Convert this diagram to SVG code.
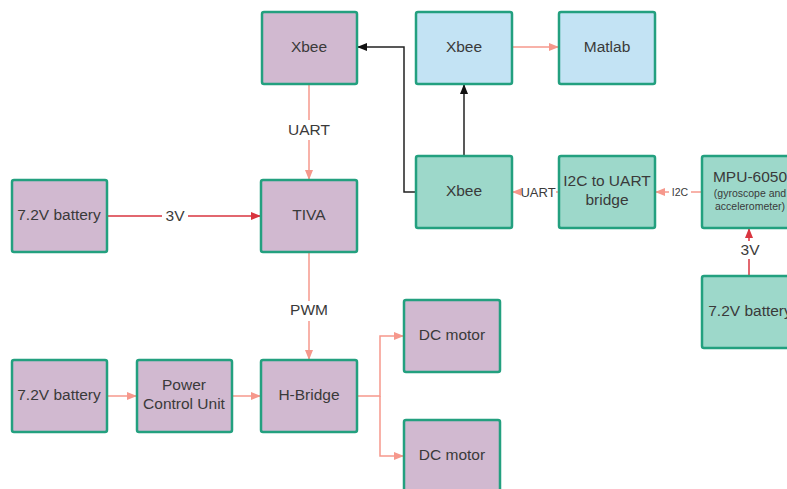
<svg xmlns="http://www.w3.org/2000/svg" width="787" height="489" viewBox="0 0 787 489">
<defs>
<style>
.n{stroke:#23a07f;stroke-width:2.5}
.p{fill:#d1b9d0}
.b{fill:#c3e3f4}
.t{fill:#9dd8ca}
text{font-family:"Liberation Sans",Arial,sans-serif;font-size:15.5px;fill:#3a3a3a;text-anchor:middle}
.s{font-size:10.5px}
.m{font-size:13px}
.l{fill:none;stroke:#f6988c;stroke-width:1.5}
.r{fill:none;stroke:#d9353f;stroke-width:1.5}
.k{fill:none;stroke:#222;stroke-width:1.5}
.lb{fill:#fff}
</style>
<marker id="ap" markerWidth="10" markerHeight="10" refX="9" refY="5" orient="auto" markerUnits="userSpaceOnUse"><path d="M0,1 L10,5 L0,9 Z" fill="#f6988c"/></marker>
<marker id="ar" markerWidth="10" markerHeight="10" refX="9" refY="5" orient="auto" markerUnits="userSpaceOnUse"><path d="M0,1 L10,5 L0,9 Z" fill="#d9353f"/></marker>
<marker id="ak" markerWidth="10" markerHeight="10" refX="9" refY="5" orient="auto" markerUnits="userSpaceOnUse"><path d="M0,1 L10,5 L0,9 Z" fill="#111"/></marker>
</defs>
<rect width="787" height="489" fill="#fff"/>
<g id="connectors">
<path class="l" d="M309,85 V179" marker-end="url(#ap)"/>
<rect class="lb" x="284" y="120" width="50" height="20"/>
<text x="309" y="135">UART</text>
<path class="r" d="M107,216 H260" marker-end="url(#ar)"/>
<rect class="lb" x="162" y="207" width="26" height="18"/>
<text x="175" y="221">3V</text>
<path class="l" d="M309,252 V359" marker-end="url(#ap)"/>
<rect class="lb" x="285" y="301" width="48" height="20"/>
<text x="309" y="315">PWM</text>
<path class="l" d="M107,396 H136" marker-end="url(#ap)"/>
<path class="l" d="M232,396 H260" marker-end="url(#ap)"/>
<path class="l" d="M357,396 H380 V336 H403" marker-end="url(#ap)"/>
<path class="l" d="M380,396 V456 H403" marker-end="url(#ap)"/>
<path class="l" d="M512,47 H558" marker-end="url(#ap)"/>
<path class="k" d="M464,156 V85" marker-end="url(#ak)"/>
<path class="k" d="M416,192 H404 V47 H358" marker-end="url(#ak)"/>
<path class="l" d="M559,192 H513" marker-end="url(#ap)"/>
<rect class="lb" x="521" y="183" width="35" height="18"/>
<text class="m" x="538" y="197">UART</text>
<path class="l" d="M702,192 H656" marker-end="url(#ap)"/>
<rect class="lb" x="669" y="185" width="22" height="14"/>
<text class="s" x="680" y="196">I2C</text>
<path class="r" d="M749,276 V229" marker-end="url(#ar)"/>
<rect class="lb" x="737" y="241" width="26" height="18"/>
<text x="750" y="255">3V</text>
</g>
<g id="xbee1"><rect class="n p" x="262" y="12" width="95" height="72" rx="2"/><text x="309" y="52">Xbee</text></g>
<g id="xbee2"><rect class="n b" x="416" y="12" width="96" height="72" rx="2"/><text x="464" y="52">Xbee</text></g>
<g id="matlab"><rect class="n b" x="559" y="12" width="96" height="72" rx="2"/><text x="607" y="52">Matlab</text></g>
<g id="xbee3"><rect class="n t" x="416" y="156" width="96" height="72" rx="2"/><text x="464" y="196">Xbee</text></g>
<g id="bridge"><rect class="n t" x="559" y="156" width="96" height="72" rx="2"/><text x="607" y="186">I2C to UART</text><text x="607" y="205">bridge</text></g>
<g id="mpu"><rect class="n t" x="702" y="156" width="96" height="72" rx="2"/><text x="750" y="182">MPU-6050</text><text class="s" x="750" y="197">(gyroscope and</text><text class="s" x="750" y="210">accelerometer)</text></g>
<g id="battery3"><rect class="n t" x="702" y="276" width="96" height="72" rx="2"/><text x="750" y="316">7.2V battery</text></g>
<g id="battery1"><rect class="n p" x="12" y="180" width="95" height="72" rx="2"/><text x="59" y="220">7.2V battery</text></g>
<g id="tiva"><rect class="n p" x="261" y="180" width="96" height="72" rx="2"/><text x="309" y="220">TIVA</text></g>
<g id="battery2"><rect class="n p" x="12" y="360" width="95" height="72" rx="2"/><text x="59" y="400">7.2V battery</text></g>
<g id="pcu"><rect class="n p" x="137" y="360" width="95" height="72" rx="2"/><text x="184" y="390">Power</text><text x="184" y="409">Control Unit</text></g>
<g id="hbridge"><rect class="n p" x="261" y="360" width="96" height="72" rx="2"/><text x="309" y="400">H-Bridge</text></g>
<g id="motor1"><rect class="n p" x="404" y="300" width="96" height="72" rx="2"/><text x="452" y="340">DC motor</text></g>
<g id="motor2"><rect class="n p" x="404" y="420" width="96" height="72" rx="2"/><text x="452" y="460">DC motor</text></g>
</svg>
